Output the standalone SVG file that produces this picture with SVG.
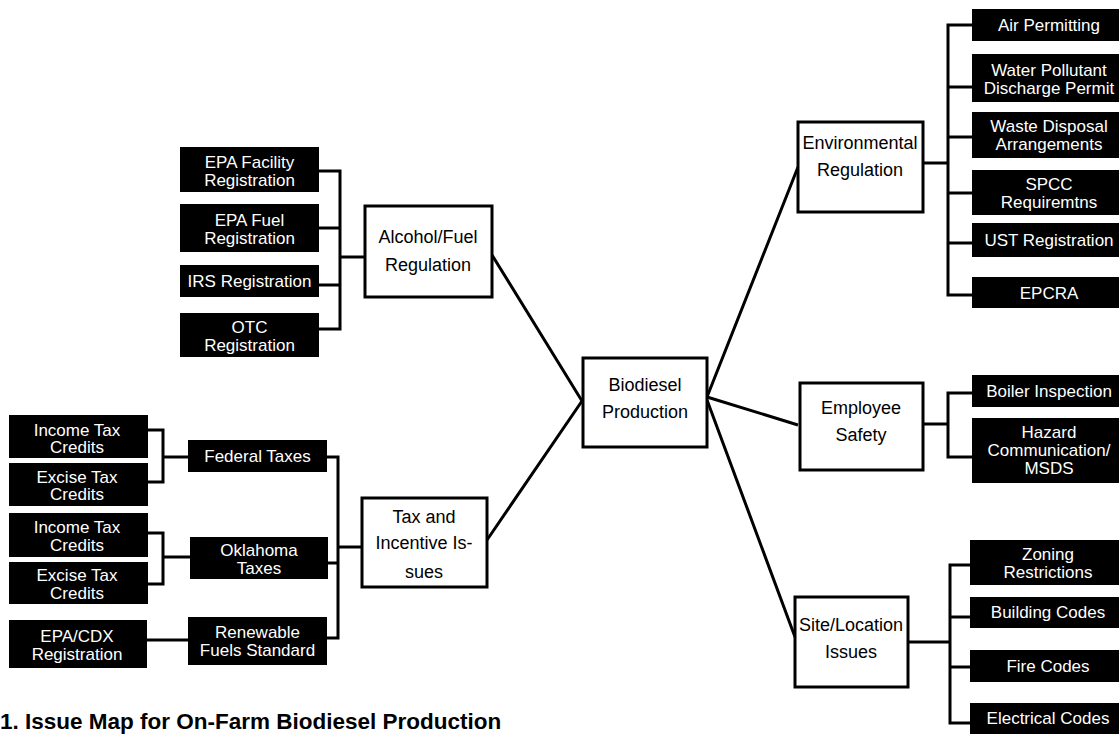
<svg xmlns="http://www.w3.org/2000/svg" width="1119" height="734" viewBox="0 0 1119 734">
<style>
.wb{fill:#fff;stroke:#000;stroke-width:3}
.bb{fill:#000}
.wt{font-family:"Liberation Sans",Arial,sans-serif;font-size:18px;fill:#000;text-anchor:middle}
.bt{font-family:"Liberation Sans",Arial,sans-serif;font-size:17px;fill:#fff;text-anchor:middle}
.conn{fill:none;stroke:#000;stroke-width:3}
.cap{font-family:"Liberation Sans",Arial,sans-serif;font-size:22.5px;font-weight:bold;fill:#000}
</style>
<rect width="1119" height="734" fill="#fff"/>
<g id="connectors" class="conn">
<path d="M319,171 H340 V329 H319 M319,228 H340 M319,285 H340 M340,257 H365"/>
<path d="M148,430 H163 V482 H148 M163,457 H188"/>
<path d="M148,533 H163 V584 H148 M163,557 H190"/>
<path d="M147,640 H188"/>
<path d="M327,457 H338 V638 H327 M328,563 H338 M338,547 H362"/>
<path d="M492,255 L582,401 M487,540 L582,401 M707,397 L798,167 M707,397 L798,425 M707,400 L795,637"/>
<path d="M972,25 H948 V295 H972 M948,87 H972 M948,137 H972 M948,193 H972 M948,243 H972 M923,163 H948"/>
<path d="M972,393 H948 V457 H972 M923,424 H948"/>
<path d="M970,565 H950 V723 H970 M950,617 H970 M950,667 H970 M908,642 H950"/>
</g>
<g id="biodiesel"><rect class="wb" x="583" y="358" width="124" height="89"/><text class="wt" x="645" y="391">Biodiesel</text><text class="wt" x="645" y="418">Production</text></g>
<g id="alcohol"><rect class="wb" x="365" y="206" width="127" height="91"/><text class="wt" x="428" y="243">Alcohol/Fuel</text><text class="wt" x="428" y="271">Regulation</text></g>
<g id="tax"><rect class="wb" x="362" y="498" width="125" height="89"/><text class="wt" x="424" y="523">Tax and</text><text class="wt" x="424" y="549">Incentive Is-</text><text class="wt" x="424" y="578">sues</text></g>
<g id="environmental"><rect class="wb" x="798" y="122" width="125" height="90"/><text class="wt" x="860" y="149">Environmental</text><text class="wt" x="860" y="176">Regulation</text></g>
<g id="employee"><rect class="wb" x="800" y="383" width="123" height="87"/><text class="wt" x="861" y="414">Employee</text><text class="wt" x="861" y="441">Safety</text></g>
<g id="site"><rect class="wb" x="795" y="597" width="113" height="90"/><text class="wt" x="851" y="631">Site/Location</text><text class="wt" x="851" y="658">Issues</text></g>

<g id="epa-facility"><rect class="bb" x="180" y="147" width="139" height="45"/><text class="bt" x="249.5" y="168">EPA Facility</text><text class="bt" x="249.5" y="186">Registration</text></g>
<g id="epa-fuel"><rect class="bb" x="180" y="204" width="139" height="48"/><text class="bt" x="249.5" y="226">EPA Fuel</text><text class="bt" x="249.5" y="244">Registration</text></g>
<g id="irs"><rect class="bb" x="180" y="265" width="139" height="32"/><text class="bt" x="249.5" y="287">IRS Registration</text></g>
<g id="otc"><rect class="bb" x="180" y="313" width="139" height="44"/><text class="bt" x="249.5" y="333">OTC</text><text class="bt" x="249.5" y="351">Registration</text></g>

<g id="income-fed"><rect class="bb" x="9" y="415" width="139" height="43"/><text class="bt" x="77" y="436">Income Tax</text><text class="bt" x="77" y="453">Credits</text></g>
<g id="excise-fed"><rect class="bb" x="9" y="463" width="139" height="43"/><text class="bt" x="77" y="483">Excise Tax</text><text class="bt" x="77" y="500">Credits</text></g>
<g id="income-ok"><rect class="bb" x="9" y="513" width="139" height="44"/><text class="bt" x="77" y="533">Income Tax</text><text class="bt" x="77" y="551">Credits</text></g>
<g id="excise-ok"><rect class="bb" x="9" y="562" width="139" height="42"/><text class="bt" x="77" y="581">Excise Tax</text><text class="bt" x="77" y="599">Credits</text></g>
<g id="epa-cdx"><rect class="bb" x="9" y="620" width="138" height="48"/><text class="bt" x="77" y="642">EPA/CDX</text><text class="bt" x="77" y="660">Registration</text></g>
<g id="federal"><rect class="bb" x="188" y="440" width="139" height="32"/><text class="bt" x="257.5" y="462">Federal Taxes</text></g>
<g id="oklahoma"><rect class="bb" x="190" y="537" width="138" height="42"/><text class="bt" x="259" y="556">Oklahoma</text><text class="bt" x="259" y="574">Taxes</text></g>
<g id="rfs"><rect class="bb" x="188" y="617" width="139" height="48"/><text class="bt" x="257.5" y="638">Renewable</text><text class="bt" x="257.5" y="656">Fuels Standard</text></g>

<g id="air"><rect class="bb" x="972" y="9" width="154" height="32"/><text class="bt" x="1049" y="31">Air Permitting</text></g>
<g id="water"><rect class="bb" x="972" y="54" width="154" height="48"/><text class="bt" x="1049" y="76">Water Pollutant</text><text class="bt" x="1049" y="94">Discharge Permit</text></g>
<g id="waste"><rect class="bb" x="972" y="112" width="154" height="46"/><text class="bt" x="1049" y="132">Waste Disposal</text><text class="bt" x="1049" y="150">Arrangements</text></g>
<g id="spcc"><rect class="bb" x="972" y="170" width="154" height="45"/><text class="bt" x="1049" y="190">SPCC</text><text class="bt" x="1049" y="208">Requiremtns</text></g>
<g id="ust"><rect class="bb" x="972" y="223" width="154" height="34"/><text class="bt" x="1049" y="246">UST Registration</text></g>
<g id="epcra"><rect class="bb" x="972" y="277" width="154" height="31"/><text class="bt" x="1049" y="299">EPCRA</text></g>

<g id="boiler"><rect class="bb" x="972" y="375" width="154" height="32"/><text class="bt" x="1049" y="397">Boiler Inspection</text></g>
<g id="hazard"><rect class="bb" x="972" y="418" width="154" height="65"/><text class="bt" x="1049" y="438">Hazard</text><text class="bt" x="1049" y="456">Communication/</text><text class="bt" x="1049" y="474">MSDS</text></g>

<g id="zoning"><rect class="bb" x="970" y="540" width="156" height="45"/><text class="bt" x="1048" y="560">Zoning</text><text class="bt" x="1048" y="578">Restrictions</text></g>
<g id="building"><rect class="bb" x="970" y="597" width="156" height="31"/><text class="bt" x="1048" y="618">Building Codes</text></g>
<g id="fire"><rect class="bb" x="970" y="650" width="156" height="32"/><text class="bt" x="1048" y="672">Fire Codes</text></g>
<g id="electrical"><rect class="bb" x="970" y="703" width="156" height="34"/><text class="bt" x="1048" y="724">Electrical Codes</text></g>

<text class="cap" x="0" y="729">1. Issue Map for On-Farm Biodiesel Production</text>
</svg>
